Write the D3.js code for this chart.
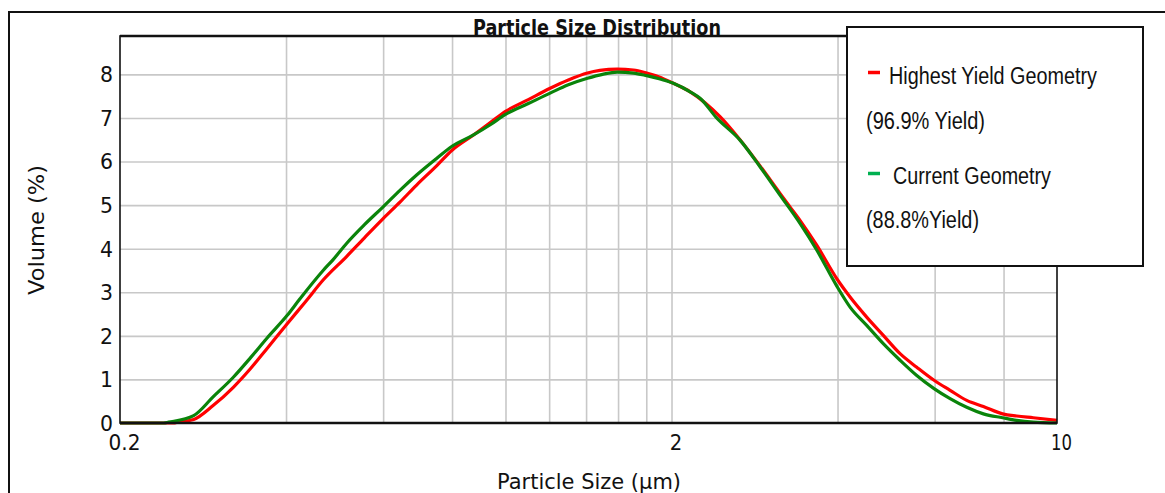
<!DOCTYPE html>
<html>
<head>
<meta charset="utf-8">
<script src="https://cdn.jsdelivr.net/npm/d3@7"></script>
<style>
  html, body { margin: 0; padding: 0; background: #fff; }
  svg { display: block; }
</style>
</head>
<body>
<svg id="chart" width="1165" height="493"></svg>
<script>
// Particle size (µm) and volume (%) for each geometry
const sizeHighest = [0.2, 0.25, 0.255, 0.272, 0.295, 0.321, 0.345, 0.369, 0.402, 0.435, 0.467, 0.515, 0.555, 0.6, 0.645, 0.69, 0.75, 0.8, 0.875, 0.94, 1.0, 1.1, 1.205, 1.3, 1.408, 1.483, 1.595, 1.706, 1.803, 1.9, 2.01, 2.162, 2.3, 2.449, 2.662, 2.894, 3.146, 3.28, 3.42, 3.667, 3.988, 4.215, 4.518, 4.842, 5.193, 5.568, 5.985, 6.4, 6.86, 7.354, 7.968, 8.453, 9.058, 10];
const volHighest  = [0, 0, 0.02, 0.08, 0.4, 0.82, 1.25, 1.7, 2.28, 2.8, 3.28, 3.82, 4.25, 4.69, 5.08, 5.46, 5.9, 6.26, 6.61, 6.9, 7.15, 7.42, 7.68, 7.87, 8.03, 8.09, 8.12, 8.1, 8.03, 7.94, 7.8, 7.6, 7.35, 7.03, 6.5, 5.9, 5.27, 4.96, 4.65, 4.08, 3.31, 2.89, 2.43, 2.01, 1.59, 1.28, 0.98, 0.75, 0.52, 0.38, 0.21, 0.16, 0.12, 0.06];

const sizeCurrent = [0.2, 0.24, 0.245, 0.272, 0.295, 0.321, 0.345, 0.369, 0.402, 0.424, 0.467, 0.487, 0.515, 0.555, 0.6, 0.645, 0.69, 0.75, 0.8, 0.875, 0.94, 1.0, 1.1, 1.205, 1.3, 1.408, 1.5, 1.595, 1.706, 1.803, 1.9, 2.01, 2.162, 2.253, 2.415, 2.662, 2.894, 3.146, 3.42, 3.667, 3.988, 4.215, 4.518, 4.842, 5.193, 5.568, 5.985, 6.4, 6.86, 7.354, 7.968, 8.453, 9.058, 10];
const volCurrent  = [0, 0, 0.02, 0.17, 0.6, 1.05, 1.5, 1.94, 2.47, 2.85, 3.5, 3.75, 4.12, 4.55, 4.96, 5.35, 5.69, 6.07, 6.35, 6.61, 6.85, 7.08, 7.33, 7.57, 7.76, 7.91, 8.0, 8.05, 8.03, 7.97, 7.9, 7.8, 7.6, 7.45, 7.0, 6.49, 5.88, 5.23, 4.58, 3.97, 3.14, 2.66, 2.24, 1.82, 1.44, 1.09, 0.79, 0.56, 0.36, 0.21, 0.12, 0.06, 0.02, 0];

// Axis ticks and grid positions
const xTickLabels = [0.2, 2, 10];
const xGridValues = [0.4, 0.6, 0.8, 1, 1.2, 1.4, 1.6, 1.8, 2, 4, 6, 8];
const yTickValues = [0, 1, 2, 3, 4, 5, 6, 7, 8];

const seriesNames = ["Highest Yield Geometry", "Current Geometry"];
const seriesNotes = ["(96.9% Yield)", "(88.8%Yield)"];

const svg = d3.select("#chart");
const plotL = 120, plotR = 1057, plotT = 36, plotB = 423;

const x = d3.scaleLog().domain([0.2, 10]).range([plotL, plotR]);
const y = d3.scaleLinear().domain([0, 8.88]).range([plotB, plotT]);

// Outer frame (top and left edges)
svg.append("path")
  .attr("d", "M9,493 V12 H1165")
  .attr("fill", "none").attr("stroke", "#111").attr("stroke-width", 2);

// Title
svg.append("text")
  .attr("x", 597).attr("y", 35)
  .attr("text-anchor", "middle")
  .attr("font-family", "DejaVu Sans, Verdana, sans-serif")
  .attr("font-weight", "bold").attr("font-size", 21)
  .attr("textLength", 248).attr("lengthAdjust", "spacingAndGlyphs")
  .attr("fill", "#111")
  .text("Particle Size Distribution");

// Plot background
svg.append("rect")
  .attr("x", plotL).attr("y", plotT)
  .attr("width", plotR - plotL).attr("height", plotB - plotT)
  .attr("fill", "#fff");

// Grid lines
const gridX = svg.append("g")
  .attr("transform", `translate(0,${plotB})`)
  .call(d3.axisBottom(x).tickValues(xGridValues).tickSize(-(plotB - plotT)).tickFormat(""));
const gridY = svg.append("g")
  .attr("transform", `translate(${plotL},0)`)
  .call(d3.axisLeft(y).tickValues(yTickValues.filter(v => v > 0)).tickSize(-(plotR - plotL)).tickFormat(""));
[gridX, gridY].forEach(g => {
  g.select(".domain").remove();
  g.selectAll(".tick line").attr("stroke", "#c8c8c8").attr("stroke-width", 1.6);
});

// Curves
const clipId = "plot-clip";
svg.append("clipPath").attr("id", clipId)
  .append("rect").attr("x", plotL).attr("y", plotT - 2)
  .attr("width", plotR - plotL + 2).attr("height", plotB - plotT + 4);

const line = d3.line()
  .x(d => x(d[0]))
  .y(d => y(d[1]))
  .curve(d3.curveMonotoneX);

const series = [
  { pts: d3.zip(sizeHighest, volHighest), color: "#ff0000" },
  { pts: d3.zip(sizeCurrent, volCurrent), color: "#0a840a" }
];
svg.append("g").attr("clip-path", `url(#${clipId})`)
  .selectAll("path").data(series).join("path")
  .attr("d", d => line(d.pts))
  .attr("fill", "none")
  .attr("stroke", d => d.color)
  .attr("stroke-width", 3.2)
  .attr("stroke-linejoin", "round");

// Plot frame
svg.append("rect")
  .attr("x", plotL).attr("y", plotT)
  .attr("width", plotR - plotL).attr("height", plotB - plotT)
  .attr("fill", "none").attr("stroke", "#111").attr("stroke-width", 1.6);
svg.append("line")
  .attr("x1", plotL).attr("x2", plotR).attr("y1", plotT).attr("y2", plotT)
  .attr("stroke", "#111").attr("stroke-width", 2.4);
svg.append("line")
  .attr("x1", plotL).attr("x2", plotR).attr("y1", plotB).attr("y2", plotB)
  .attr("stroke", "#111").attr("stroke-width", 2.4);

// Tick labels
const tickFont = "DejaVu Sans, Verdana, sans-serif";
const yAxis = svg.append("g")
  .attr("transform", `translate(${plotL},0)`)
  .call(d3.axisLeft(y).tickValues(yTickValues).tickSize(0).tickPadding(7).tickFormat(d3.format("d")));
yAxis.select(".domain").remove();
yAxis.selectAll("text")
  .attr("font-family", tickFont).attr("font-size", 22).attr("fill", "#111")
  .attr("dy", "0.34em")
  .attr("textLength", 13).attr("lengthAdjust", "spacingAndGlyphs");

const xLabelWidth = { "0.2": 32, "2": 12.5, "10": 21 };
const xAxis = svg.append("g")
  .attr("transform", `translate(4,${plotB})`)
  .call(d3.axisBottom(x).tickValues(xTickLabels).tickSize(0).tickPadding(11).tickFormat(d => String(d)));
xAxis.select(".domain").remove();
xAxis.selectAll("text")
  .attr("font-family", tickFont).attr("font-size", 22).attr("fill", "#111")
  .attr("dy", "0.71em")
  .attr("textLength", d => xLabelWidth[String(d)]).attr("lengthAdjust", "spacingAndGlyphs");

// Axis titles
svg.append("text")
  .attr("transform", "translate(44,230) rotate(-90)")
  .attr("text-anchor", "middle")
  .attr("font-family", tickFont).attr("font-size", 22).attr("fill", "#111")
  .attr("textLength", 130).attr("lengthAdjust", "spacingAndGlyphs")
  .text("Volume (%)");
svg.append("text")
  .attr("x", 589).attr("y", 489)
  .attr("text-anchor", "middle")
  .attr("font-family", tickFont).attr("font-size", 22).attr("fill", "#111")
  .attr("textLength", 184).attr("lengthAdjust", "spacingAndGlyphs")
  .text("Particle Size (µm)");

// Legend
const legend = svg.append("g");
legend.append("rect")
  .attr("x", 847).attr("y", 27).attr("width", 296).attr("height", 239)
  .attr("fill", "#fff").attr("stroke", "#111").attr("stroke-width", 2);

const legendFont = "Liberation Sans, Arial, sans-serif";
const legendRows = [
  { marker: "#ff0000", my: 72.5, name: seriesNames[0], nx: 889, ny: 84, nw: 208, note: seriesNotes[0], ty: 129, tw: 119 },
  { marker: "#00b050", my: 173.5, name: seriesNames[1], nx: 893, ny: 184, nw: 158, note: seriesNotes[1], ty: 228, tw: 113 }
];
legendRows.forEach(r => {
  legend.append("line")
    .attr("x1", 868).attr("x2", 880).attr("y1", r.my).attr("y2", r.my)
    .attr("stroke", r.marker).attr("stroke-width", 3.5);
  legend.append("text")
    .attr("x", r.nx).attr("y", r.ny)
    .attr("font-family", legendFont).attr("font-size", 23).attr("fill", "#111")
    .attr("textLength", r.nw).attr("lengthAdjust", "spacingAndGlyphs")
    .text(r.name);
  legend.append("text")
    .attr("x", 866).attr("y", r.ty)
    .attr("font-family", legendFont).attr("font-size", 23).attr("fill", "#111")
    .attr("textLength", r.tw).attr("lengthAdjust", "spacingAndGlyphs")
    .text(r.note);
});
</script>
</body>
</html>
